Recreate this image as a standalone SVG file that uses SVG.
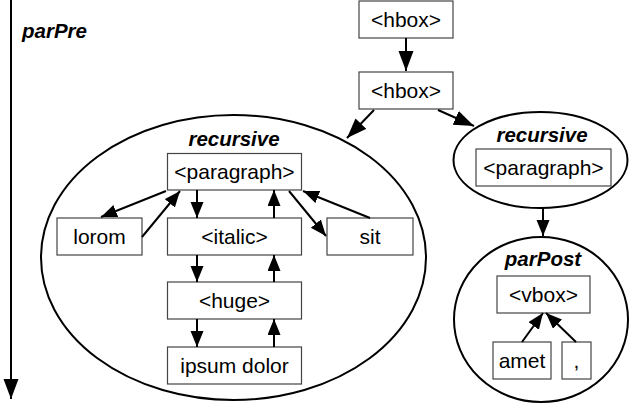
<svg xmlns="http://www.w3.org/2000/svg" width="629" height="406" viewBox="0 0 629 406">
<style>
.box{fill:#fff;stroke:#444;stroke-width:1.2}
.ell{fill:#fff;stroke:#000;stroke-width:2}
.t{font-family:"Liberation Sans",Arial,sans-serif;font-size:21px;fill:#000;text-anchor:middle}
.lab{font-family:"Liberation Sans",Arial,sans-serif;font-size:20.5px;font-weight:bold;font-style:italic;fill:#000;text-anchor:middle}
.e{fill:none;stroke:#000;stroke-width:2;marker-end:url(#ah)}
.b{fill:none;stroke:#000;stroke-width:2;marker-end:url(#big)}
</style>
<defs>
<marker id="ah" markerUnits="userSpaceOnUse" markerWidth="17" markerHeight="14" refX="16" refY="6.5" orient="auto">
<path d="M0,0 L16,6.5 L0,13 z" fill="#000"/>
</marker>
<marker id="big" markerUnits="userSpaceOnUse" markerWidth="21" markerHeight="16" refX="20" refY="7.5" orient="auto">
<path d="M0,0 L20,7.5 L0,15 z" fill="#000"/>
</marker>
</defs>
<g id="axis">
<line x1="11" y1="0" x2="11" y2="399" class="b"/>
<text x="22" y="38" class="lab" style="text-anchor:start">parPre</text>
</g>
<g id="cluster-recursive-1">
<ellipse cx="233.5" cy="257.5" rx="192.5" ry="142.5" class="ell"/>
<text x="234" y="146" class="lab">recursive</text>
</g>
<g id="cluster-recursive-2">
<ellipse cx="540.5" cy="160" rx="87" ry="48" class="ell"/>
<text x="542" y="142" class="lab">recursive</text>
</g>
<g id="cluster-parPost">
<ellipse cx="541" cy="319.5" rx="87" ry="82.5" class="ell"/>
<text x="543" y="266" class="lab">parPost</text>
</g>
<g id="hbox1"><rect x="359" y="1" width="94" height="37" class="box"/><text x="406" y="26.5" class="t">&lt;hbox&gt;</text></g>
<g id="hbox2"><rect x="359" y="72" width="94" height="37" class="box"/><text x="406" y="97.5" class="t">&lt;hbox&gt;</text></g>
<g id="paragraph1"><rect x="167.5" y="153.5" width="134" height="36.5" class="box"/><text x="234.5" y="179" class="t">&lt;paragraph&gt;</text></g>
<g id="lorom"><rect x="57" y="218" width="85" height="37" class="box"/><text x="99.5" y="243.5" class="t">lorom</text></g>
<g id="italic"><rect x="167.5" y="218" width="134" height="37" class="box"/><text x="234.5" y="243.5" class="t">&lt;italic&gt;</text></g>
<g id="sit"><rect x="327" y="218" width="86" height="37" class="box"/><text x="370" y="243.5" class="t">sit</text></g>
<g id="huge"><rect x="167.5" y="282" width="134" height="37" class="box"/><text x="234.5" y="307.5" class="t">&lt;huge&gt;</text></g>
<g id="ipsum"><rect x="167.5" y="347" width="134" height="37" class="box"/><text x="234.5" y="372.5" class="t">ipsum dolor</text></g>
<g id="paragraph2"><rect x="476" y="149" width="135" height="37" class="box"/><text x="543.5" y="174.5" class="t">&lt;paragraph&gt;</text></g>
<g id="vbox"><rect x="497" y="276" width="93" height="37" class="box"/><text x="543.5" y="301.5" class="t">&lt;vbox&gt;</text></g>
<g id="amet"><rect x="493" y="342" width="58" height="37" class="box"/><text x="522" y="367.5" class="t">amet</text></g>
<g id="comma"><rect x="562" y="342" width="29" height="37" class="box"/><text x="576.5" y="367.5" class="t">,</text></g>
<g id="connectors">
<line x1="406" y1="38" x2="406" y2="71" class="b"/>
<line x1="374" y1="110" x2="347" y2="138" class="b"/>
<line x1="438" y1="110" x2="474" y2="126" class="b"/>
<line x1="166" y1="191" x2="101" y2="217" class="e"/>
<line x1="142" y1="237" x2="180" y2="191" class="e"/>
<line x1="197" y1="190" x2="197" y2="218" class="e"/>
<line x1="274" y1="218" x2="274" y2="190" class="e"/>
<line x1="197" y1="255" x2="197" y2="282" class="e"/>
<line x1="274" y1="282" x2="274" y2="255" class="e"/>
<line x1="197" y1="319" x2="197" y2="347" class="e"/>
<line x1="274" y1="347" x2="274" y2="319" class="e"/>
<line x1="289" y1="191" x2="326" y2="236" class="e"/>
<line x1="370" y1="218" x2="303" y2="191" class="e"/>
<line x1="543" y1="207" x2="543" y2="236" class="e"/>
<line x1="522" y1="342" x2="543" y2="313" class="e"/>
<line x1="576" y1="342" x2="546" y2="313" class="e"/>
</g>
</svg>
